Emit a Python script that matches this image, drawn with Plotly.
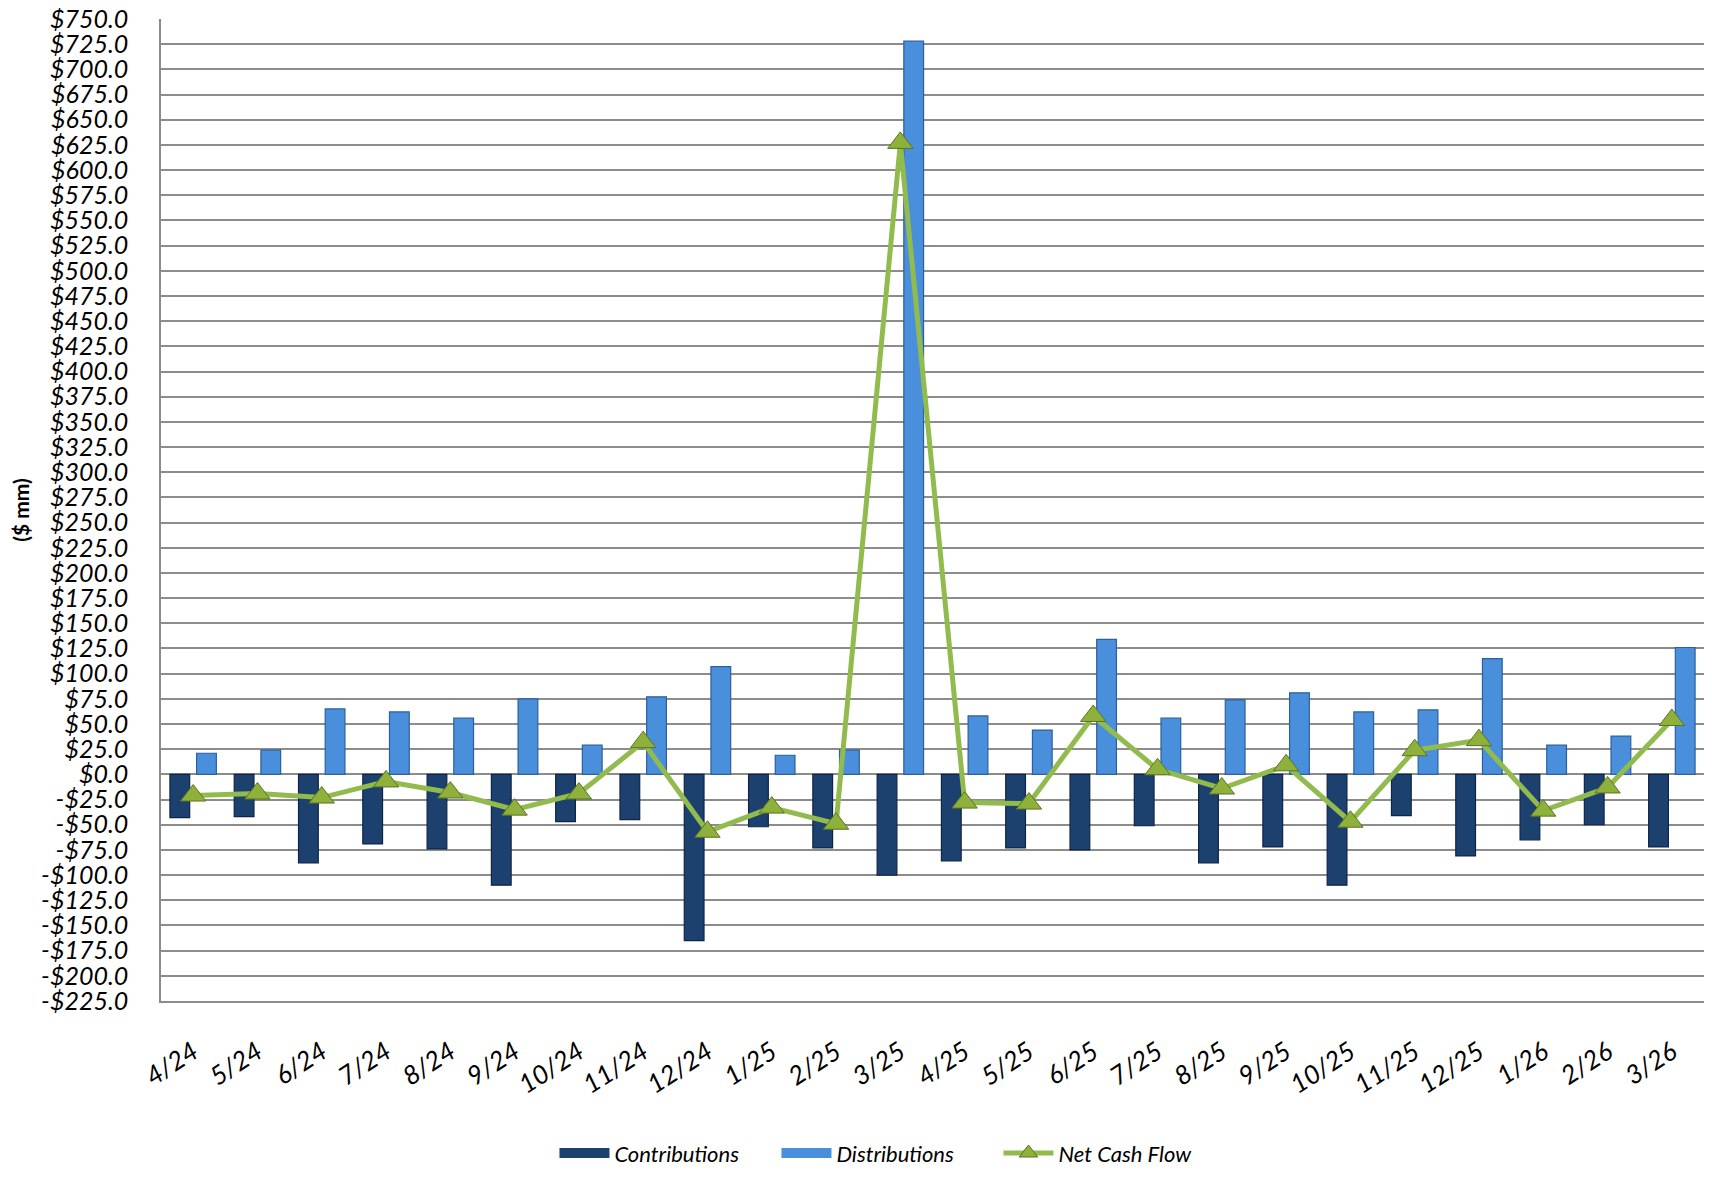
import plotly.graph_objects as go

months = ["4/24", "5/24", "6/24", "7/24", "8/24", "9/24", "10/24", "11/24", "12/24",
          "1/25", "2/25", "3/25", "4/25", "5/25", "6/25", "7/25", "8/25", "9/25",
          "10/25", "11/25", "12/25", "1/26", "2/26", "3/26"]

contributions = [-43, -42, -88, -69, -74, -110, -47, -45, -165,
                 -52, -73, -100, -86, -73, -75, -51, -88, -72,
                 -110, -41, -81, -65, -50, -72]

distributions = [21, 24, 65, 62, 56, 75, 29, 77, 107,
                 19, 24, 728, 58, 44, 134, 56, 74, 81,
                 62, 64, 115, 29, 38, 126]

net_cash_flow = [-21, -19, -23, -7, -18, -35, -19, 32, -57,
                 -33, -49, 627, -28, -29, 58, 5, -14, 9,
                 -47, 24, 34, -36, -13, 54]

y_tick_values = list(range(-225, 751, 25))
y_tick_labels = [("-$" if v < 0 else "$") + f"{abs(v):.1f}" for v in y_tick_values]

FONT = "Lato"
GRID = "#8c8c8c"
C_DARK, C_DARK_EDGE = "#1c416f", "#0f2547"
C_LIGHT, C_LIGHT_EDGE = "#4a8fdc", "#2d5f9c"

fig = go.Figure()
fig.add_trace(go.Bar(
    x=months, y=contributions, name="Contributions", legendgroup="c", showlegend=False,
    marker=dict(color=C_DARK, line=dict(color=C_DARK_EDGE, width=1.2)),
))
fig.add_trace(go.Bar(
    x=months, y=distributions, name="Distributions", legendgroup="d", showlegend=False,
    marker=dict(color=C_LIGHT, line=dict(color=C_LIGHT_EDGE, width=1.2)),
))
fig.add_trace(go.Scatter(
    x=months, y=net_cash_flow, name="Net Cash Flow", mode="lines+markers",
    legendgroup="n", legendrank=3,
    line=dict(color="#92bb4e", width=5),
    marker=dict(symbol="triangle-up", size=22, color="#8fb03a",
                line=dict(color="#5a7520", width=1)),
))
# legend-only entries giving the bar series a wide rectangular key
fig.add_trace(go.Scatter(
    x=[None], y=[None], name="Contributions", mode="lines", legendgroup="c", legendrank=1,
    line=dict(color=C_DARK, width=15), hoverinfo="skip",
))
fig.add_trace(go.Scatter(
    x=[None], y=[None], name="Distributions", mode="lines", legendgroup="d", legendrank=2,
    line=dict(color=C_LIGHT, width=15), hoverinfo="skip",
))

# page body has an 8px margin: figure is sized/offset to compensate
fig.update_layout(
    width=1696, height=1161,
    paper_bgcolor="white", plot_bgcolor="white",
    margin=dict(l=153, r=0, t=11, b=168, autoexpand=False),
    barmode="group", bargap=0.17, bargroupgap=0.26,
    font=dict(family=FONT, size=24, color="black", style="italic"),
    showlegend=True,
    legend=dict(orientation="h", x=0.255, xanchor="left", y=-0.155, yanchor="middle",
                font=dict(family=FONT, size=22, style="italic", color="black"),
                itemwidth=50, entrywidth=157, entrywidthmode="pixels",
                traceorder="normal"),
    xaxis=dict(
        type="category", range=[-0.5, 23.5], autorange=False, automargin=False,
        tickangle=-33, showgrid=False,
        showline=True, linecolor=GRID, linewidth=1.5,
        ticks="", ticklabelstandoff=24,
        tickfont=dict(family=FONT, size=26, style="italic", color="black"),
    ),
    yaxis=dict(
        range=[-225, 750], autorange=False, automargin=False,
        tickvals=y_tick_values, ticktext=y_tick_labels, ticklabeloverflow="allow",
        showgrid=True, gridcolor=GRID, gridwidth=1.5,
        zeroline=True, zerolinecolor=GRID, zerolinewidth=1.5,
        showline=True, linecolor=GRID, linewidth=1.5,
        ticks="", ticklabelstandoff=26,
        tickfont=dict(family=FONT, size=25, style="italic", color="black"),
        title=dict(text="<b>($ mm)</b>", standoff=12,
                   font=dict(family=FONT, size=21, style="normal", color="black")),
    ),
)

fig.write_html("out.html")
